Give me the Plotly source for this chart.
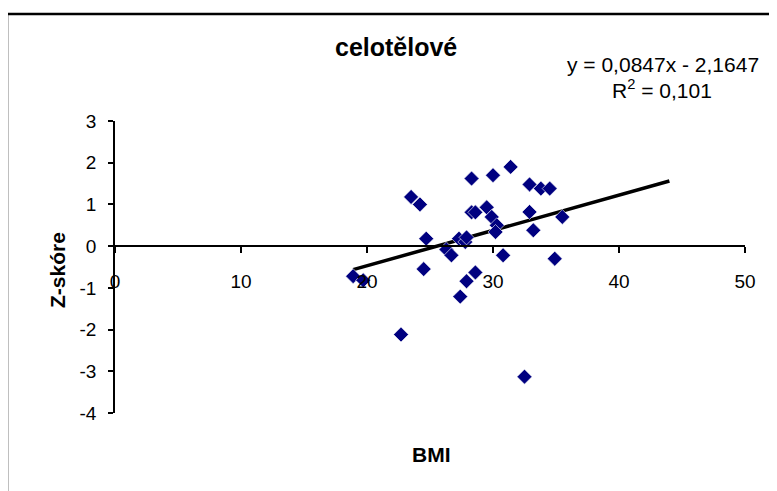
import plotly.graph_objects as go

# ---- data ----
bmi = [18.9, 19.7, 23.5, 24.2, 24.7, 24.5, 26.3, 26.7, 27.4, 27.3, 27.8, 27.9,
       27.9, 28.6, 28.3, 28.3, 28.6, 30.0, 31.4, 29.5, 29.9, 30.3, 30.2, 30.8,
       32.9, 33.8, 34.5, 32.9, 33.2, 35.5, 34.9, 22.7, 32.5]
zscore = [-0.72, -0.82, 1.18, 1.00, 0.18, -0.55, -0.08, -0.22, -1.21, 0.18, 0.10, 0.21,
          -0.84, -0.63, 1.62, 0.81, 0.81, 1.70, 1.90, 0.93, 0.70, 0.50, 0.34, -0.22,
          1.48, 1.38, 1.38, 0.82, 0.38, 0.70, -0.30, -2.12, -3.13]
slope = 0.0847
intercept = -2.1647
r2_text = "0,101"
forecast_forward = 8.5
x_ticks = [0, 10, 20, 30, 40, 50]
y_ticks = [-4, -3, -2, -1, 0, 1, 2, 3]
x_ticklabels = ["0", "10", "20", "30", "40", "50"]
y_ticklabels = ["-4", "-3", "-2", "-1", "0", "1", "2", "3"]
title_text = "celotělové"
x_title = "BMI"
y_title = "Z-skóre"

# ---- layout geometry (pixels; page body adds an 8px offset) ----
OFF = 8
W, H = 777, 491
L, T = 115 - OFF, 121 - OFF
R = W - (745 - OFF)
B = H - (413 - OFF)
pw, ph = W - L - R, H - T - B


def px(x):
    return (x - OFF - L) / pw


def py(y):
    return (H - B - (y - OFF)) / ph


trend_x = [min(bmi), max(bmi) + forecast_forward]
trend_y = [slope * v + intercept for v in trend_x]

FONT = "Liberation Sans, Arial, sans-serif"


def label(text, x, y, size, angle=0):
    return dict(text=text, xref="paper", yref="paper", x=px(x), y=py(y),
                xanchor="center", yanchor="middle", showarrow=False,
                textangle=angle, font=dict(size=size, family=FONT, color="black"))


fig = go.Figure()
fig.add_trace(go.Scatter(
    x=trend_x, y=trend_y, mode="lines",
    line=dict(color="black", width=3.5), showlegend=False, hoverinfo="skip"))
fig.add_trace(go.Scatter(
    x=bmi, y=zscore, mode="markers",
    marker=dict(symbol="diamond", size=11.5, color="#000080",
                line=dict(color="white", width=0.6)),
    showlegend=False))

ymin, ymax = min(y_ticks), max(y_ticks)
fig.update_layout(
    width=W, height=H,
    margin=dict(l=L, r=R, t=T, b=B),
    paper_bgcolor="white", plot_bgcolor="white",
    font=dict(family=FONT, color="black", size=19),
    xaxis=dict(range=[min(x_ticks), max(x_ticks)], tickvals=x_ticks, ticktext=x_ticklabels,
               showgrid=False, zeroline=False, showline=True,
               linecolor="black", linewidth=2,
               ticks="outside", ticklen=6, tickwidth=1.5, tickcolor="black",
               anchor="free", position=(0 - ymin) / (ymax - ymin),
               ticklabelstandoff=12,
               tickfont=dict(size=19, family=FONT)),
    yaxis=dict(range=[ymin, ymax], tickvals=y_ticks, ticktext=y_ticklabels,
               showgrid=False, zeroline=False, showline=True,
               linecolor="black", linewidth=1.5,
               ticks="outside", ticklen=5, tickwidth=1.5, tickcolor="black",
               ticklabelstandoff=8,
               tickfont=dict(size=19, family=FONT)),
    shapes=[dict(type="rect", xref="paper", yref="paper",
                 x0=px(7), y0=py(14), x1=px(820), y1=py(540),
                 line=dict(color="black", width=2.5), layer="below")],
    annotations=[
        label(f"<b>{title_text}</b>", 396, 47, 25),
        label(f"y = {str(slope).replace('.', ',')}x - {str(-intercept).replace('.', ',')}",
              663, 65, 21),
        label(f"R<sup>2</sup> = {r2_text}", 662, 89, 21),
        label(f"<b>{x_title}</b>", 431, 454, 21),
        label(f"<b>{y_title}</b>", 57, 270, 21, angle=-90),
    ],
)

fig.write_html("out.html")
